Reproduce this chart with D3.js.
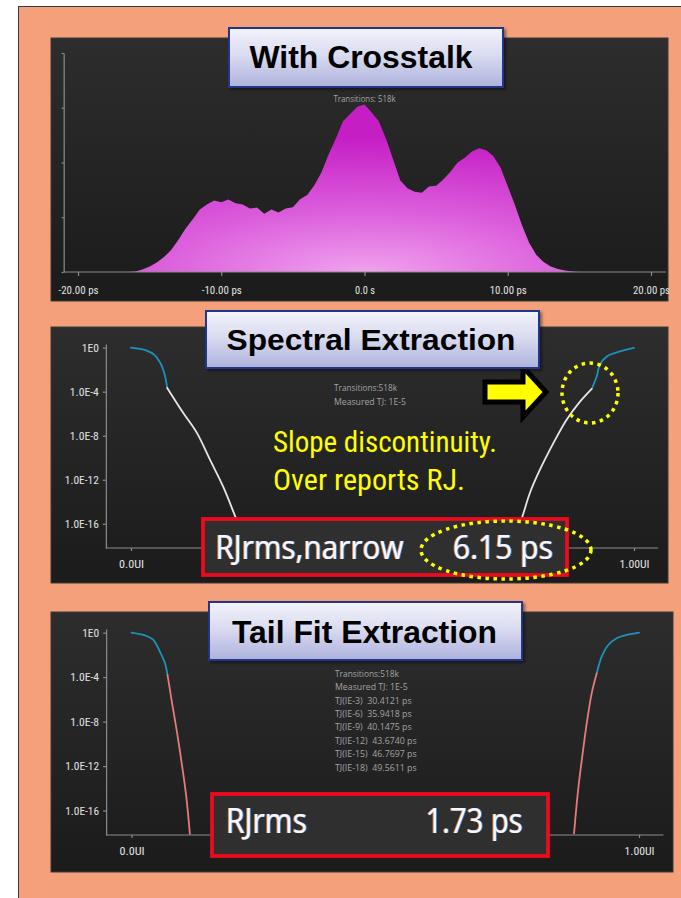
<!DOCTYPE html>
<html>
<head>
<meta charset="utf-8">
<script src="https://cdn.jsdelivr.net/npm/d3@7"></script>
<style>
  html, body { margin: 0; padding: 0; background: #ffffff; }
  svg { display: block; }
  text { white-space: pre; }
</style>
</head>
<body>
<svg id="fig" width="681" height="898"></svg>
<script>
// ---------- jitter histogram (with crosstalk) ----------
const jitterPs = [
  -20, -19.5, -19, -18.5, -18, -17.5, -17, -16.5, -16, -15.5,
  -15, -14.5, -14, -13.5, -13, -12.5, -12, -11.5, -11, -10.5,
  -10, -9.5, -9, -8.5, -8, -7.5, -7, -6.5, -6, -5.5,
  -5, -4.5, -4, -3.5, -3, -2.5, -2, -1.5, -1, -0.5,
  0, 0.5, 1, 1.5, 2, 2.5, 3, 3.5, 4, 4.5,
  5, 5.5, 6, 6.5, 7, 7.5, 8, 8.5, 9, 9.5,
  10, 10.5, 11, 11.5, 12, 12.5, 13, 13.5, 14, 14.5,
  15, 15.5, 16, 16.5, 17, 17.5, 18, 18.5, 19, 19.5, 20
];
const jitterDensity = [
  0, 0, 0, 0, 0, 0, 0, 0.000, 0.002, 0.011,
  0.025, 0.043, 0.068, 0.100, 0.146, 0.198, 0.240, 0.285, 0.308, 0.327,
  0.318, 0.331, 0.314, 0.308, 0.290, 0.294, 0.266, 0.285, 0.272, 0.290,
  0.296, 0.332, 0.352, 0.396, 0.455, 0.538, 0.610, 0.688, 0.722, 0.755,
  0.765, 0.728, 0.688, 0.608, 0.514, 0.418, 0.382, 0.366, 0.362, 0.390,
  0.394, 0.422, 0.458, 0.500, 0.522, 0.550, 0.565, 0.556, 0.528, 0.476,
  0.392, 0.306, 0.212, 0.132, 0.078, 0.046, 0.025, 0.014, 0.007, 0.002,
  0, 0, 0, 0, 0, 0, 0, 0, 0, 0, 0
];
const jitterTickValues = [-20, -10, 0, 10, 20];
const jitterTickLabels = ["-20.00 ps", "-10.00 ps", "0.0 s", "10.00 ps", "20.00 ps"];
const densityTickValues = [0, 0.25, 0.5, 0.75, 1];

// ---------- bathtub curves ----------
const berTickValues = [1, 1e-4, 1e-8, 1e-12, 1e-16];
const berTickLabels = ["1E0", "1.0E-4", "1.0E-8", "1.0E-12", "1.0E-16"];
const uiTickValues = [0, 1];
const uiTickLabels = ["0.0UI", "1.00UI"];

// spectral extraction: measured core (blue) + extrapolated tail (white)
const spectralLeftCoreUI  = [0, 0.030, 0.046, 0.058, 0.067, 0.072];
const spectralLeftCoreBER = [1, 0.57, 0.23, 0.044, 3.5e-3, 2.2e-4];
const spectralLeftTailUI  = [0.072, 0.104, 0.131, 0.157, 0.183, 0.207, 0.230];
const spectralLeftTailBER = [2.2e-4, 1.15e-6, 1.8e-8, 6.6e-11, 2.5e-13, 5e-16, 1e-18];
const spectralRightCoreUI  = [1.0, 0.966, 0.946, 0.932, 0.926, 0.916];
const spectralRightCoreBER = [0.93, 0.37, 0.16, 0.028, 2.5e-3, 1.8e-4];
const spectralRightTailUI  = [0.916, 0.893, 0.866, 0.840, 0.813, 0.793, 0.777, 0.756];
const spectralRightTailBER = [1.8e-4, 1.3e-5, 2.8e-7, 2.2e-9, 8.1e-12, 6.3e-14, 3.2e-16, 1e-18];

// tail fit extraction: measured core (blue) + fitted tail (salmon)
const tailLeftCoreUI  = [0, 0.030, 0.043, 0.056, 0.066, 0.071];
const tailLeftCoreBER = [1, 0.50, 0.22, 0.0195, 1.8e-3, 1.55e-4];
const tailLeftFitUI   = [0.071, 0.079, 0.089, 0.099, 0.108, 0.115];
const tailLeftFitBER  = [1.55e-4, 8.7e-7, 1.7e-9, 1.7e-12, 1.66e-15, 8e-19];
const tailRightCoreUI  = [1.0, 0.976, 0.956, 0.9395, 0.9265, 0.9167];
const tailRightCoreBER = [1, 0.62, 0.32, 0.078, 6.9e-3, 2.2e-4];
const tailRightFitUI   = [0.9167, 0.9068, 0.898, 0.889, 0.880, 0.872];
const tailRightFitBER  = [2.2e-4, 3.5e-6, 1.4e-8, 1.4e-11, 6.9e-15, 8.7e-19];

const tjLevels = ["TJ(IE-3)", "TJ(IE-6)", "TJ(IE-9)", "TJ(IE-12)", "TJ(IE-15)", "TJ(IE-18)"];
const tjValues = ["30.4121 ps", "35.9418 ps", "40.1475 ps", "43.6740 ps", "46.7697 ps", "49.5611 ps"];
const transitionsText = "Transitions:518k";
const measuredTJText = "Measured TJ: 1E-5";
const rjNarrowLabel = "RJrms,narrow", rjNarrowValue = "6.15 ps";
const rjTailLabel = "RJrms", rjTailValue = "1.73 ps";

// ---------- drawing ----------
const NARROW = "'Liberation Sans Narrow','Arial Narrow','Roboto Condensed','Liberation Sans',Arial,sans-serif";
const SANS = "'Liberation Sans',Arial,Helvetica,sans-serif";
const UI_FONT = "'Open Sans','Noto Sans','DejaVu Sans',sans-serif";

const svg = d3.select("#fig");
const defs = svg.append("defs");

const panelBg = defs.append("linearGradient").attr("id", "panelBg")
  .attr("x1", 0).attr("y1", 0).attr("x2", 0).attr("y2", 1);
panelBg.append("stop").attr("offset", "0%").attr("stop-color", "#2d2d2d");
panelBg.append("stop").attr("offset", "100%").attr("stop-color", "#1b1b1b");

const titleBg = defs.append("linearGradient").attr("id", "titleBg")
  .attr("x1", 0).attr("y1", 0).attr("x2", 0).attr("y2", 1);
titleBg.append("stop").attr("offset", "0%").attr("stop-color", "#f3f3fb");
titleBg.append("stop").attr("offset", "45%").attr("stop-color", "#dadcf0");
titleBg.append("stop").attr("offset", "100%").attr("stop-color", "#adb2dc");

const histFill = defs.append("radialGradient").attr("id", "histFill")
  .attr("cx", 0.5).attr("cy", 1).attr("r", 0.8);
histFill.append("stop").attr("offset", "0%").attr("stop-color", "#f0a2ee");
histFill.append("stop").attr("offset", "45%").attr("stop-color", "#dc5fdc");
histFill.append("stop").attr("offset", "100%").attr("stop-color", "#c51ec5");

const shadow = defs.append("filter").attr("id", "shadow")
  .attr("x", "-10%").attr("y", "-10%").attr("width", "130%").attr("height", "140%");
shadow.append("feDropShadow").attr("dx", 2).attr("dy", 2).attr("stdDeviation", 1.8)
  .attr("flood-color", "#000").attr("flood-opacity", 0.45);

// colour fringes around the large readout digits (orange left, blue right)
const fringe = defs.append("filter").attr("id", "fringe")
  .attr("x", "-5%").attr("y", "-10%").attr("width", "110%").attr("height", "120%");
fringe.append("feOffset").attr("in", "SourceAlpha").attr("dx", -1).attr("dy", 0).attr("result", "aL");
fringe.append("feFlood").attr("flood-color", "#ff9a38").attr("flood-opacity", 0.8).attr("result", "cL");
fringe.append("feComposite").attr("in", "cL").attr("in2", "aL").attr("operator", "in").attr("result", "fL");
fringe.append("feOffset").attr("in", "SourceAlpha").attr("dx", 1).attr("dy", 0).attr("result", "aR");
fringe.append("feFlood").attr("flood-color", "#3a9cff").attr("flood-opacity", 0.8).attr("result", "cR");
fringe.append("feComposite").attr("in", "cR").attr("in2", "aR").attr("operator", "in").attr("result", "fR");
const merge = fringe.append("feMerge");
merge.append("feMergeNode").attr("in", "fL");
merge.append("feMergeNode").attr("in", "fR");
merge.append("feMergeNode").attr("in", "SourceGraphic");

// page background and frame
svg.append("rect").attr("width", 681).attr("height", 898).attr("fill", "#ffffff");
svg.append("rect").attr("x", 18.5).attr("y", 6.5).attr("width", 670).attr("height", 900)
  .attr("fill", "#f4a07a").attr("stroke", "#3a3a3a").attr("stroke-width", 1);

function panel(x, y, w, h) {
  svg.append("rect").attr("x", x).attr("y", y).attr("width", w).attr("height", h)
    .attr("fill", "url(#panelBg)").attr("stroke", "#3b3b3b").attr("stroke-width", 1);
}

function titleBox(x, y, w, h, label, cx, baseline, size, len) {
  svg.append("rect").attr("x", x).attr("y", y).attr("width", w).attr("height", h)
    .attr("fill", "url(#titleBg)").attr("stroke", "#24358c").attr("stroke-width", 2)
    .attr("filter", "url(#shadow)");
  svg.append("text").attr("x", cx).attr("y", baseline).attr("text-anchor", "middle")
    .attr("font-family", SANS).attr("font-weight", "bold").attr("font-size", size)
    .attr("fill", "#000").attr("textLength", len).attr("lengthAdjust", "spacingAndGlyphs")
    .text(label);
}

function smallText(x, y, str, len, anchor) {
  svg.append("text").attr("x", x).attr("y", y).attr("text-anchor", anchor || "start")
    .attr("font-family", UI_FONT).attr("font-size", 9).attr("fill", "#a3a3a3")
    .attr("textLength", len).attr("lengthAdjust", "spacingAndGlyphs").text(str);
}

function styleAxis(g, widths) {
  g.selectAll("line, path").attr("stroke", "#8c8c8c").attr("stroke-width", 1.2);
  g.selectAll("text").attr("fill", "#e2e2e2").attr("font-family", NARROW).attr("font-size", 11)
    .each(function (d, i) {
      if (widths && widths[i]) d3.select(this).attr("textLength", widths[i]).attr("lengthAdjust", "spacingAndGlyphs");
    });
}

// ===== panel 1: jitter histogram =====
panel(51, 38, 617, 263);

const xJ = d3.scaleLinear().domain([-20, 20]).range([78, 651]);
const yJ = d3.scaleLinear().domain([0, 1]).range([272, 53]);

const histArea = d3.area()
  .x((d, i) => xJ(jitterPs[i]))
  .y0(yJ(0))
  .y1(d => yJ(d));
svg.append("path").datum(jitterDensity).attr("d", histArea).attr("fill", "url(#histFill)");

const gxJ = svg.append("g").attr("transform", `translate(0,${yJ(0)})`)
  .call(d3.axisBottom(xJ).tickValues(jitterTickValues)
    .tickFormat((d, i) => jitterTickLabels[i]).tickSize(4).tickSizeOuter(0).tickPadding(10));
gxJ.select(".domain").remove();
gxJ.append("line").attr("x1", xJ(-21)).attr("x2", xJ(21.05)).attr("y1", 0).attr("y2", 0);
styleAxis(gxJ, [40, 40, 20, 37, 37]);

const gyJ = svg.append("g").attr("transform", `translate(${xJ(-21)},0)`)
  .call(d3.axisLeft(yJ).tickValues(densityTickValues).tickSize(2).tickSizeOuter(0).tickFormat(""));
styleAxis(gyJ);

smallText(xJ(0), 102, "Transitions: 518k", 62, "middle");

titleBox(229, 28, 274, 59, "With Crosstalk", 361, 68, 32, 223);

// ===== bathtub panels =====
function bathtub(cfg) {
  const xB = d3.scaleLinear().domain([0, 1]).range(cfg.xRange);
  const yB = d3.scaleLog().domain([Math.pow(10, -18.2), Math.pow(10, 0.33)]).range(cfg.yRange);
  const line = (uis) => d3.line()
    .x((d, i) => xB(uis[i]))
    .y(d => yB(d))
    .curve(d3.curveCatmullRom.alpha(0.5));

  cfg.segments.forEach(s => {
    svg.append("path").datum(s.ber).attr("d", line(s.ui)(s.ber))
      .attr("fill", "none").attr("stroke", s.color).attr("stroke-width", 1.8)
      .attr("stroke-linejoin", "round").attr("stroke-linecap", "round");
  });

  const gy = svg.append("g").attr("transform", `translate(${xB(-0.05)},0)`)
    .call(d3.axisLeft(yB).tickValues(berTickValues)
      .tickFormat((d, i) => berTickLabels[i]).tickSize(3).tickSizeOuter(0).tickPadding(4));
  styleAxis(gy, [17, 29, 29, 34, 34]);

  const gx = svg.append("g").attr("transform", `translate(0,${cfg.yRange[0]})`)
    .call(d3.axisBottom(xB).tickValues(uiTickValues)
      .tickFormat((d, i) => uiTickLabels[i]).tickSize(3).tickSizeOuter(0).tickPadding(9));
  gx.select(".domain").remove();
  gx.append("line").attr("x1", xB(-0.05)).attr("x2", xB(1.048)).attr("y1", 0).attr("y2", 0);
  styleAxis(gx, [25, 30]);
  return { xB, yB };
}

function rjBox(x, y, w, h, label, labelX, value, valueX, baseline, size, labelLen, valueLen) {
  svg.append("rect").attr("x", x).attr("y", y).attr("width", w).attr("height", h)
    .attr("fill", "#2f2f2f").attr("stroke", "#ec0a1c").attr("stroke-width", 3.8);
  [[label, labelX, labelLen], [value, valueX, valueLen]].forEach(([str, tx, len]) => {
    svg.append("text").attr("x", tx).attr("y", baseline)
      .attr("font-family", UI_FONT).attr("font-size", size).attr("fill", "#f6f8ff")
      .attr("textLength", len).attr("lengthAdjust", "spacingAndGlyphs")
      .attr("filter", "url(#fringe)").text(str);
  });
}

// ===== panel 2: spectral extraction =====
panel(51, 327, 617, 256);
bathtub({
  xRange: [131, 634], yRange: [548, 344],
  segments: [
    { ui: spectralLeftCoreUI, ber: spectralLeftCoreBER, color: "#1b93bd" },
    { ui: spectralLeftTailUI, ber: spectralLeftTailBER, color: "#e6e6e6" },
    { ui: spectralRightCoreUI, ber: spectralRightCoreBER, color: "#1b93bd" },
    { ui: spectralRightTailUI, ber: spectralRightTailBER, color: "#e6e6e6" }
  ]
});
smallText(334, 391, transitionsText, 63);
smallText(334, 405, measuredTJText, 72);

svg.append("text").attr("x", 273).attr("y", 451.5).attr("font-family", NARROW).attr("font-size", 30)
  .attr("fill", "#ffff00").attr("textLength", 224).attr("lengthAdjust", "spacingAndGlyphs")
  .text("Slope discontinuity.");
svg.append("text").attr("x", 273).attr("y", 490).attr("font-family", NARROW).attr("font-size", 30)
  .attr("fill", "#ffff00").attr("textLength", 192).attr("lengthAdjust", "spacingAndGlyphs")
  .text("Over reports RJ.");

// pointer arrow toward the slope break
svg.append("polygon")
  .attr("points", "485,382 523,382 523,367 546,392 523,417 523,402 485,402")
  .attr("fill", "#ffff00").attr("stroke", "#000").attr("stroke-width", 5).attr("stroke-linejoin", "miter");

svg.append("ellipse").attr("cx", 590).attr("cy", 393).attr("rx", 28).attr("ry", 30)
  .attr("fill", "none").attr("stroke", "#ffff00").attr("stroke-width", 3.5).attr("stroke-dasharray", "3.5 4.5");

rjBox(203, 519, 364, 56, rjNarrowLabel, 215.5, rjNarrowValue, 453, 559, 32, 188, 100);
svg.append("ellipse").attr("cx", 506).attr("cy", 550).attr("rx", 85).attr("ry", 29)
  .attr("fill", "none").attr("stroke", "#ffff00").attr("stroke-width", 3.5).attr("stroke-dasharray", "3.5 4.5");

titleBox(206, 311, 333, 57, "Spectral Extraction", 371, 350, 30, 289);

// ===== panel 3: tail fit extraction =====
panel(51, 612, 622, 260);
bathtub({
  xRange: [131.5, 639], yRange: [835, 629],
  segments: [
    { ui: tailLeftCoreUI, ber: tailLeftCoreBER, color: "#1b93bd" },
    { ui: tailLeftFitUI, ber: tailLeftFitBER, color: "#e57b7b" },
    { ui: tailRightCoreUI, ber: tailRightCoreBER, color: "#1b93bd" },
    { ui: tailRightFitUI, ber: tailRightFitBER, color: "#e57b7b" }
  ]
});
smallText(335, 676.5, transitionsText, 64);
smallText(335, 690, measuredTJText, 72.7);
tjLevels.forEach((lvl, i) => {
  const long = lvl.length > 8;
  smallText(335, 703.5 + i * 13.4, lvl + "  " + tjValues[i], long ? 81.7 : 76.7);
});

rjBox(212, 794, 336, 62, rjTailLabel, 226, rjTailValue, 425.7, 832.5, 34, 81, 97);

titleBox(209, 602, 313, 58, "Tail Fit Extraction", 364.5, 643, 32, 265);
</script>
</body>
</html>
